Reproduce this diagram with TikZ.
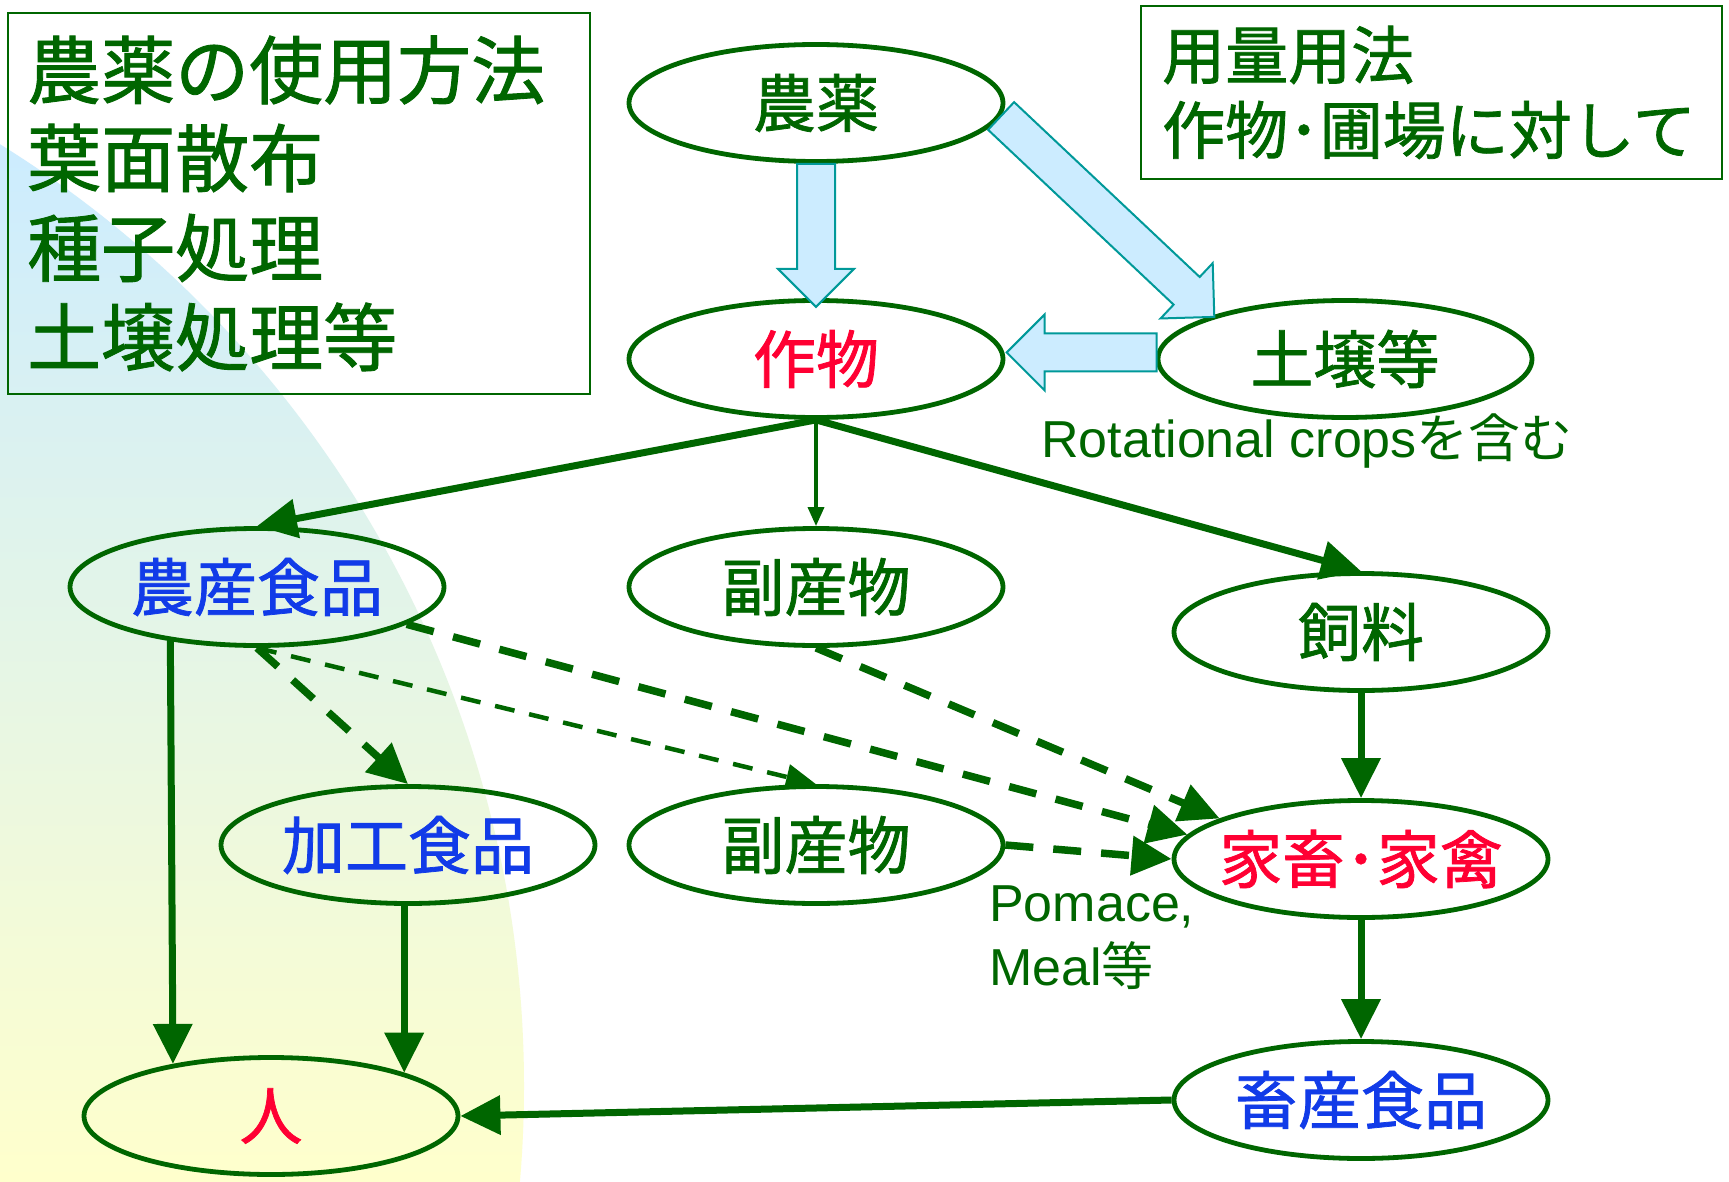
\documentclass[tikz,border=0pt]{standalone}
\usepackage{fontspec}
\setmainfont{Liberation Sans}
\newfontfamily\cjk{Noto Sans CJK JP}[FakeBold=1.2]
\newfontfamily\cjklbl{Noto Sans CJK JP}
\usetikzlibrary{shapes.geometric,arrows.meta}
\definecolor{dg}{RGB}{0,102,0}
\definecolor{rd}{RGB}{255,0,51}
\definecolor{bl}{RGB}{17,59,232}
\definecolor{lb}{RGB}{204,236,255}
\definecolor{tl}{RGB}{0,153,153}
\definecolor{ly}{RGB}{255,255,204}
\newcommand\blkarrow[3]{%
  \begin{scope}[shift={(#1)},rotate=#2]
    \draw[barrow] (0,19)--(#3-38,19)--(#3-38,38)--(#3,0)--(#3-38,-38)--(#3-38,-19)--(0,-19)--cycle;
  \end{scope}}
\newcommand\ztext[1]{\makebox[0pt]{#1}}
\begin{document}
\begin{tikzpicture}[x=1pt,y=-1pt,
  ell/.style={ellipse, draw=dg, line width=4.8pt, minimum width=374pt, minimum height=117pt, inner sep=0pt,
    font=\cjk\fontsize{63pt}{70pt}\selectfont},
  boxtxt/.style={inner sep=0pt, anchor=west, text=dg, font=\cjk\fontsize{74pt}{80pt}\selectfont},
  rboxtxt/.style={inner sep=0pt, anchor=west, text=dg, font=\cjk\fontsize{63pt}{70pt}\selectfont},
  lbl/.style={inner sep=0pt, anchor=base west, text=dg, font=\fontsize{52pt}{63pt}\selectfont},
  frame/.style={draw=dg, line width=2.5pt},
  barrow/.style={fill=lb, draw=tl, line width=2pt, line join=miter},
  garrow/.style={draw=dg, line width=7pt, -{Triangle[length=40pt,width=38pt]}},
  tarrow/.style={draw=dg, line width=3.5pt, -{Triangle[length=19pt,width=16pt]}},
  gdash/.style={garrow, line width=7.5pt, dash pattern=on 28pt off 20pt},
  tdash/.style={draw=dg, line width=4.5pt, dash pattern=on 20pt off 15pt, -{Triangle[length=30pt,width=25pt]}}
]
\useasboundingbox (0,0) rectangle (1729,1182);
\fill[white] (0,0) rectangle (1729,1182);
% background
\begin{scope}
  \clip (0,0) rectangle (1729,1182);
  \clip (-584,1086) circle[radius=1108pt];
  \shade[top color=lb, bottom color=ly] (0,140) rectangle (600,1182);
\end{scope}
% boxes
\draw[frame] (8,13) rectangle (590,394);
\node[boxtxt] (m1) at (27,70) {農薬の使用方法};
\node[boxtxt] (m2) at (27,158) {葉面散布};
\node[boxtxt] (m3) at (27,248) {種子処理};
\node[boxtxt] (m4) at (27,337) {土壌処理等};
\draw[frame] (1141,6) rectangle (1722,179);
\node[rboxtxt] (r1) at (1162,55) {用量用法};
\node[rboxtxt] (r2) at (1162,130) {作物･圃場に対して};
% ellipses
\node[ell, text=dg] (nouyaku) at (816,103) {\ztext{農薬}};
\node[ell, text=rd] (sakumotsu) at (816,359) {\ztext{作物}};
\node[ell, text=dg] (dojou) at (1345,359) {\ztext{土壌等}};
\node[ell, text=bl] (nousan) at (257,587) {\ztext{農産食品}};
\node[ell, text=dg] (fuku1) at (816,587) {\ztext{副産物}};
\node[ell, text=dg] (shiryo) at (1361,632) {\ztext{飼料}};
\node[ell, text=bl] (kakou) at (408,845) {\ztext{加工食品}};
\node[ell, text=dg] (fuku2) at (816,845) {\ztext{副産物}};
\node[ell, text=rd] (kachiku) at (1361,859) {\ztext{家畜･家禽}};
\node[ell, text=bl] (chikusan) at (1361,1100) {\ztext{畜産食品}};
\node[ell, text=rd] (hito) at (271,1116) {\ztext{人}};
% labels
\node[lbl] (rot) at (1041,457) {Rotational crops{\cjklbl を含む}};
\node[lbl] (pom) at (989,921) {Pomace,};
\node[lbl] (meal) at (989,985) {Meal{\cjklbl 等}};
% connectors
\draw[garrow] (sakumotsu.south) -- (nousan.north);
\draw[tarrow] (sakumotsu.south) -- (fuku1.north);
\draw[garrow] (sakumotsu.south) -- (shiryo.north);
\draw[garrow] (nousan.212.6) -- (hito.152.4);
\draw[garrow] (kakou.south -| hito.18.75) -- (hito.18.75);
\draw[garrow] (shiryo.south) -- (kachiku.north);
\draw[garrow] (kachiku.south) -- (chikusan.north);
\draw[garrow] (chikusan.west) -- (hito.east);
\draw[gdash] (nousan.south) -- (kakou.north);
\draw[tdash] (nousan.south) -- (fuku2.north);
\draw[gdash] (nousan.-14.9) -- (kachiku.172);
\draw[gdash] (fuku1.south) -- (kachiku.164.5);
\draw[gdash] (fuku2.east) -- (kachiku.west);
% block arrows
\blkarrow{nouyaku.south}{-90}{143}
\blkarrow{nouyaku.-4}{-43.3}{293}
\blkarrow{dojou.178}{180}{150}
\end{tikzpicture}
\end{document}
